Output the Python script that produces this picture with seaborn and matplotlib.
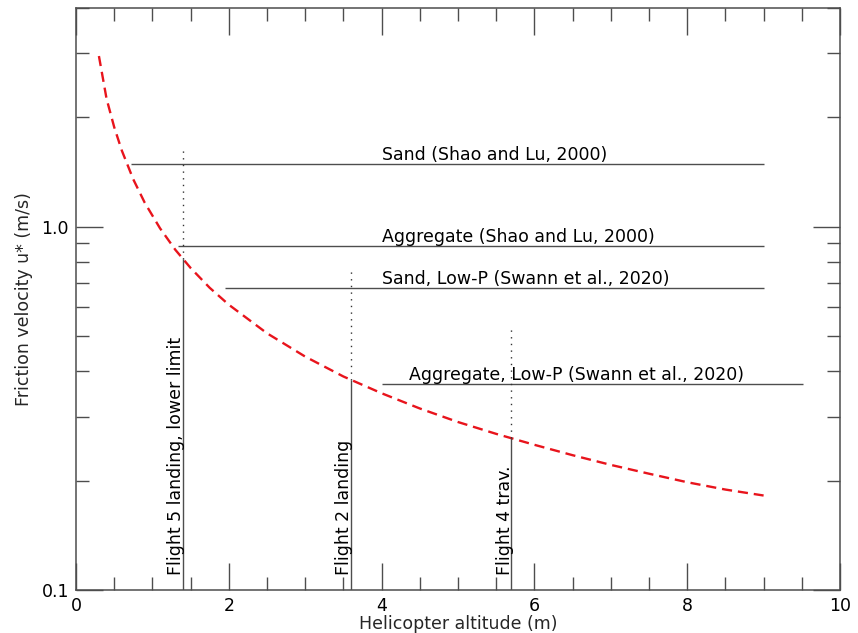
import matplotlib
matplotlib.use("Agg")
import matplotlib.pyplot as plt
import seaborn as sns
import numpy as np
import pandas as pd
from matplotlib.ticker import FixedLocator, LogLocator, NullFormatter, FixedFormatter

# --- data ---
curve_x = [0.3, 0.4, 0.5, 0.6, 0.75, 0.9, 1.1, 1.3, 1.5, 1.75, 2.0, 2.5, 3.0, 3.5, 4.0,
           4.5, 5.0, 5.5, 6.0, 6.5, 7.0, 7.5, 8.0, 8.5, 9.0]
curve_y = [2.95, 2.25, 1.88, 1.62, 1.35, 1.164, 0.99, 0.864, 0.77, 0.679, 0.61, 0.509, 0.439,
           0.387, 0.348, 0.316, 0.29, 0.269, 0.251, 0.235, 0.221, 0.209, 0.198, 0.189, 0.182]

thr_labels = ["Sand (Shao and Lu, 2000)", "Aggregate (Shao and Lu, 2000)",
              "Sand, Low-P (Swann et al., 2020)", "Aggregate, Low-P (Swann et al., 2020)"]
thr_values = [1.49, 0.887, 0.679, 0.370]
thr_xstart = [0.72, 1.33, 1.95, 4.0]
thr_xend = [9.0, 9.0, 9.0, 9.52]
thr_text_x = [4.0, 4.0, 4.0, 4.36]

flight_labels = ["Flight 5 landing, lower limit", "Flight 2 landing", "Flight 4 trav."]
flight_x = [1.4, 3.6, 5.7]
flight_u = [0.815, 0.379, 0.262]
flight_dot_top = [1.625, 0.757, 0.523]

sns.set_theme(style="ticks")
plt.rcParams['font.family'] = ['DejaVu Sans']
FS = 12.5

fig = plt.figure(figsize=(8.58, 6.33), dpi=100)
ax = fig.add_axes([76/858, 1-590/633, (840-76)/858, (590-8)/633])

df = pd.DataFrame({"x": curve_x, "y": curve_y})
sns.lineplot(data=df, x="x", y="y", ax=ax, color="#e8141c", lw=1.7)
ax.lines[-1].set_dashes((4.3, 2.5))

gray = "#4d4d4d"
for lab, v, xs, xe, tx in zip(thr_labels, thr_values, thr_xstart, thr_xend, thr_text_x):
    ax.hlines(v, xs, xe, color=gray, lw=1.0)
    ax.annotate(lab, (tx, v), xytext=(0, 2.5), textcoords="offset points",
                ha="left", va="baseline", fontsize=FS, color="black")

for lab, fx, fu, ft in zip(flight_labels, flight_x, flight_u, flight_dot_top):
    ax.vlines(fx, 0.1, fu, color=gray, lw=1.0)
    ax.plot([fx, fx], [fu, ft], color="#333333", lw=1.0, dashes=(1, 3.8))
    ax.annotate(lab, (fx, 0.11), xytext=(1.5, 0), textcoords="offset points",
                rotation=90, ha="right", va="bottom", fontsize=FS, color="black")

ax.set_yscale("log")
ax.set_xlim(0, 10)
ax.set_ylim(0.1, 4.0)

ax.set_xticks([0, 2, 4, 6, 8, 10])
ax.set_xticklabels(["0", "2", "4", "6", "8", "10"])
ax.xaxis.set_minor_locator(FixedLocator(np.arange(0, 10.01, 0.5)))
ax.yaxis.set_major_locator(FixedLocator([0.1, 1.0]))
ax.yaxis.set_major_formatter(FixedFormatter(["0.1", "1.0"]))
ax.yaxis.set_minor_locator(LogLocator(base=10, subs=np.arange(2, 10)))
ax.yaxis.set_minor_formatter(NullFormatter())

ax.tick_params(which="both", direction="in", top=True, right=True, color=gray, width=1.0,
               labelsize=FS, labelcolor="black")
ax.tick_params(which="major", length=19.5, pad=5)
ax.tick_params(which="minor", length=9.5)
for s in ax.spines.values():
    s.set_color(gray)
    s.set_linewidth(1.1)

ax.set_xlabel("Helicopter altitude (m)", fontsize=FS, labelpad=0)
ax.set_ylabel("Friction velocity u* (m/s)", fontsize=FS, labelpad=6)

fig.savefig("out.png", dpi=100)
